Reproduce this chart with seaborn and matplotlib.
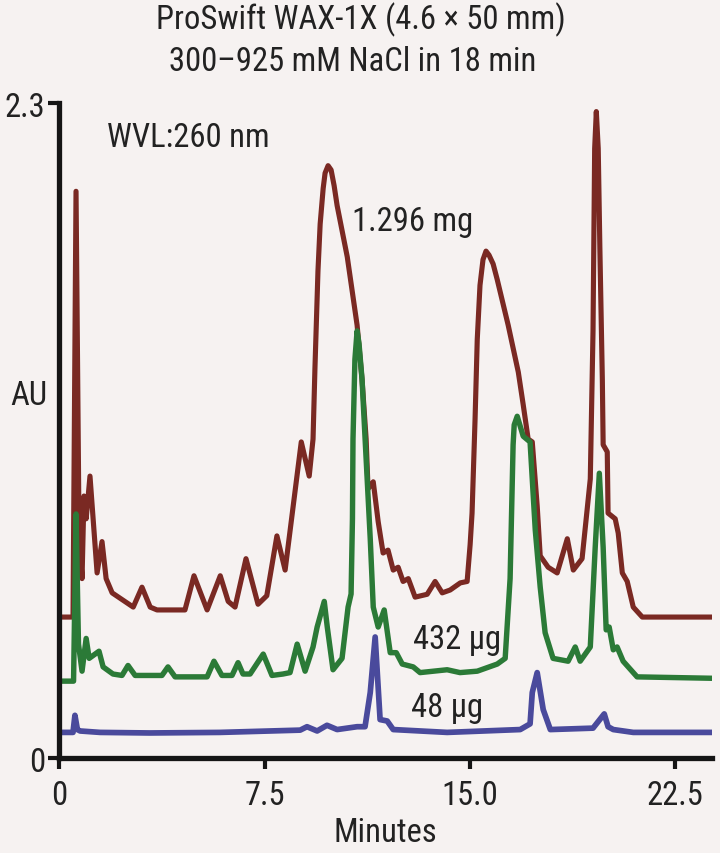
import matplotlib
matplotlib.use("Agg")
import matplotlib.pyplot as plt
import seaborn as sns
import pandas as pd

# ---- data (minutes, AU) ----
red_t = [0.0, 0.50, 0.61, 0.72, 0.83, 0.90, 0.98, 1.12, 1.38, 1.56, 1.71, 1.93, 2.70, 3.02, 3.32, 3.57,
         4.59, 4.92, 5.40, 5.88, 6.17, 6.42, 6.82, 7.26, 7.58, 7.95, 8.25, 8.84, 9.13, 9.27, 9.34, 9.45,
         9.53, 9.64, 9.71, 9.82, 9.93, 10.04, 10.15, 10.52, 10.88, 11.06, 11.21, 11.28, 11.47, 11.65,
         11.83, 12.01, 12.20, 12.38, 12.56, 12.75, 13.00, 13.44, 13.73, 13.99, 14.28, 14.65, 14.90,
         15.01, 15.08, 15.19, 15.27, 15.37, 15.48, 15.59, 15.70, 15.85, 16.00, 16.40, 16.77, 16.95,
         17.13, 17.28, 17.46, 17.57, 17.86, 18.19, 18.56, 18.78, 19.10, 19.40, 19.50, 19.56, 19.62,
         19.69, 19.75, 19.84, 19.87, 20.02, 20.05, 20.31, 20.42, 20.57, 20.75, 20.97, 21.30, 23.89]
red_a = [0.495, 0.495, 1.99, 0.80, 0.63, 0.92, 0.84, 0.99, 0.65, 0.76, 0.63, 0.58, 0.53, 0.60, 0.53, 0.52,
         0.52, 0.64, 0.52, 0.64, 0.55, 0.53, 0.70, 0.54, 0.57, 0.78, 0.66, 1.11, 0.99, 1.12, 1.37, 1.71,
         1.875, 2.00, 2.054, 2.08, 2.065, 2.01, 1.94, 1.76, 1.52, 1.33, 1.12, 0.945, 0.97, 0.83,
         0.72, 0.73, 0.66, 0.67, 0.62, 0.63, 0.565, 0.575, 0.62, 0.58, 0.59, 0.615, 0.62,
         0.75, 0.86, 1.19, 1.47, 1.66, 1.75, 1.78, 1.766, 1.735, 1.68, 1.52, 1.355, 1.24,
         1.12, 1.11, 0.885, 0.71, 0.67, 0.65, 0.77, 0.66, 0.70, 0.98, 1.50, 2.14, 2.27,
         2.14, 1.79, 1.33, 1.10, 1.075, 0.86, 0.84, 0.79, 0.65, 0.62, 0.53, 0.495, 0.495]

green_t = [0.0, 0.52, 0.61, 0.70, 0.83, 0.98, 1.09, 1.45, 1.60, 1.96, 2.29, 2.51, 2.77, 3.75, 3.97, 4.23,
           5.40, 5.65, 5.94, 6.31, 6.53, 6.71, 6.97, 7.45, 7.77, 8.17, 8.43, 8.69, 8.98, 9.27, 9.42,
           9.68, 9.79, 10.00, 10.33, 10.55, 10.66, 10.71, 10.73, 10.80, 10.88, 10.95, 11.06, 11.21,
           11.36, 11.47, 11.65, 11.87, 12.09, 12.31, 12.53, 12.93, 13.18, 14.17, 14.64, 15.27, 16.00,
           16.29, 16.47, 16.58, 16.62, 16.73, 16.95, 17.20, 17.39, 17.57, 17.75, 18.04, 18.59, 18.85,
           19.03, 19.40, 19.58, 19.73, 19.87, 19.98, 20.09, 20.24, 20.38, 20.60, 21.11, 23.89]
green_a = [0.27, 0.27, 0.857, 0.40, 0.305, 0.42, 0.35, 0.375, 0.32, 0.295, 0.29, 0.325, 0.29, 0.29, 0.32, 0.285,
           0.285, 0.34, 0.29, 0.29, 0.335, 0.295, 0.295, 0.365, 0.29, 0.295, 0.30, 0.40, 0.305, 0.39, 0.46,
           0.55, 0.46, 0.31, 0.35, 0.53, 0.576, 0.84, 1.12, 1.40, 1.50, 1.455, 1.33, 1.05,
           0.77, 0.53, 0.46, 0.52, 0.37, 0.37, 0.33, 0.32, 0.30, 0.31, 0.30, 0.305, 0.33,
           0.35, 0.63, 1.10, 1.17, 1.20, 1.13, 1.11, 0.80, 0.60, 0.44, 0.35, 0.34, 0.39,
           0.34, 0.39, 0.74, 1.00, 0.74, 0.45, 0.46, 0.38, 0.39, 0.34, 0.285, 0.28]

blue_t = [0.0, 0.50, 0.57, 0.66, 0.76, 1.49, 3.30, 5.87, 7.70, 8.80, 9.05, 9.42, 9.78, 10.15, 10.88,
          11.17, 11.36, 11.54, 11.72, 11.98, 12.20, 14.17, 16.84, 17.20, 17.28, 17.46, 17.68, 17.94,
          19.50, 19.91, 20.05, 20.24, 20.97, 23.89]
blue_a = [0.09, 0.09, 0.15, 0.10, 0.095, 0.09, 0.088, 0.09, 0.095, 0.098, 0.11, 0.095, 0.115, 0.10, 0.11,
          0.11, 0.23, 0.425, 0.135, 0.13, 0.10, 0.09, 0.10, 0.12, 0.23, 0.30, 0.17, 0.10,
          0.105, 0.155, 0.11, 0.10, 0.09, 0.09]

x_ticks = [0, 7.5, 15.0, 22.5]
x_tick_labels = ["0", "7.5", "15.0", "22.5"]
y_ticks = [0, 2.3]
y_tick_labels = ["0", "2.3"]

BG = "#f6f2f1"
TXT = "#222222"
FS = 23.5

sns.set_style("ticks")
plt.rcParams["font.family"] = ["Roboto Condensed", "DejaVu Sans"]

fig = plt.figure(figsize=(7.2, 8.54), dpi=100, facecolor=BG)
ax = fig.add_axes([0.0824, 0.1112, 0.9066, 0.7670])
ax.set_facecolor(BG)

series = [(red_t, red_a, "#7a2923", 3.7), (green_t, green_a, "#2b7a37", 3.9), (blue_t, blue_a, "#4a4a9c", 4.1)]
for t, a, c, lw in series:
    df = pd.DataFrame({"t": t, "a": a})
    sns.lineplot(data=df, x="t", y="a", ax=ax, color=c, linewidth=lw, estimator=None,
                 sort=False, solid_joinstyle="round", solid_capstyle="round")

ax.set_xlim(0, 23.85)
ax.set_ylim(0, 2.3)
ax.set_xticks(x_ticks)
ax.set_xticklabels(x_tick_labels)
ax.set_yticks(y_ticks)
ax.set_yticklabels(y_tick_labels)
ax.set_ylabel("")
ax.set_xlabel("Minutes", fontsize=FS, color=TXT, labelpad=4)

for s in ["top", "right"]:
    ax.spines[s].set_visible(False)
for s in ["left", "bottom"]:
    ax.spines[s].set_linewidth(3.8)
    ax.spines[s].set_color("#151515")

ax.tick_params(axis="both", direction="out", length=8, width=3, color="#151515",
               labelsize=FS, labelcolor=TXT)
ax.tick_params(axis="x", pad=7)
ax.tick_params(axis="y", pad=2)

fig.text(361 / 720, 1 - 20 / 854, "ProSwift WAX-1X (4.6 \u00d7 50 mm)", ha="center", va="center",
         fontsize=FS, color=TXT)
fig.text(353 / 720, 1 - 62 / 854, "300\u2013925 mM NaCl in 18 min", ha="center", va="center",
         fontsize=FS, color=TXT)
fig.text(107 / 720, 1 - 138 / 854, "WVL:260 nm", ha="left", va="center", fontsize=FS, color=TXT)
fig.text(29 / 720, 1 - 396 / 854, "AU", ha="center", va="center", fontsize=FS, color=TXT)
fig.text(413 / 720, 1 - 222 / 854, "1.296 mg", ha="center", va="center", fontsize=FS, color=TXT)
fig.text(457 / 720, 1 - 640 / 854, "432 \u00b5g", ha="center", va="center", fontsize=FS, color=TXT)
fig.text(447 / 720, 1 - 708 / 854, "48 \u00b5g", ha="center", va="center", fontsize=FS, color=TXT)

fig.savefig("out.png", dpi=100, facecolor=BG)
